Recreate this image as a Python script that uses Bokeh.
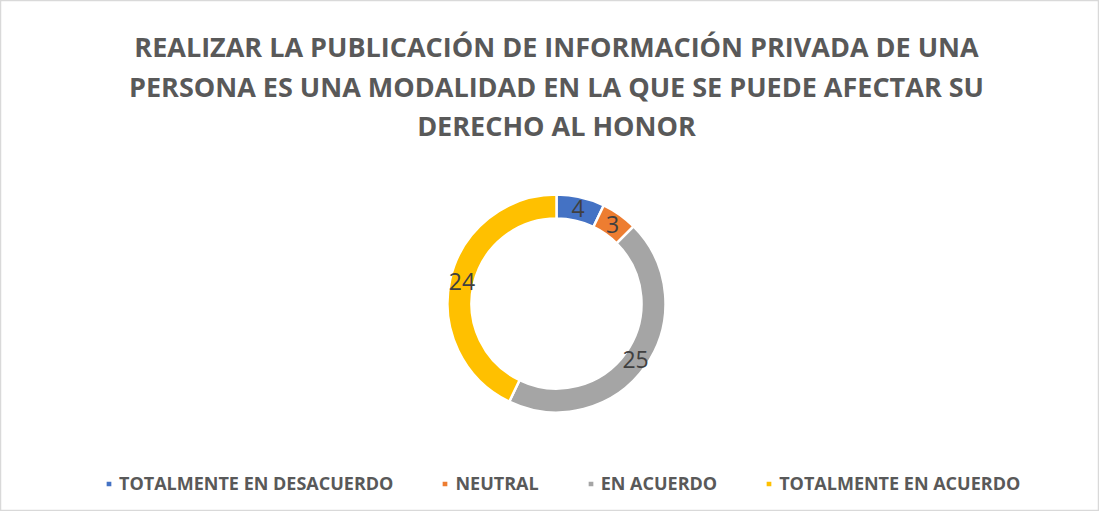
import math
from bokeh.plotting import figure
from bokeh.models import ColumnDataSource, Legend, LegendItem, Range1d
from bokeh.core.properties import value
from bokeh.embed import file_html
from bokeh.resources import INLINE

categories = ["TOTALMENTE EN DESACUERDO", "NEUTRAL", "EN ACUERDO", "TOTALMENTE EN ACUERDO"]
counts = [4, 3, 25, 24]
colors = ["#4472C4", "#ED7D31", "#A5A5A5", "#FFC000"]
title_lines = [
    "REALIZAR LA PUBLICACIÓN DE INFORMACIÓN PRIVADA DE UNA",
    "PERSONA ES UNA MODALIDAD EN LA QUE SE PUEDE AFECTAR SU",
    "DERECHO AL HONOR",
]

W, H = 1099, 511
CX, CY = 556, 208
R_OUT, R_IN = 109, 85

total = sum(counts)
starts, ends, lx, ly = [], [], [], []
cum = 0
for c in counts:
    a0 = math.pi / 2 - 2 * math.pi * cum / total
    a1 = math.pi / 2 - 2 * math.pi * (cum + c) / total
    mid = (a0 + a1) / 2
    starts.append(a0)
    ends.append(a1)
    rm = (R_OUT + R_IN) / 2
    lx.append(CX + rm * math.cos(mid))
    ly.append(CY + rm * math.sin(mid))
    cum += c

src = ColumnDataSource(dict(cat=categories, n=counts, color=colors,
                            start=starts, end=ends, lx=lx, ly=ly,
                            lbl=[str(c) for c in counts]))

p = figure(width=W, height=H, output_backend="svg", toolbar_location=None,
           x_range=Range1d(0, W), y_range=Range1d(0, H),
           min_border=0, min_border_left=0, min_border_right=0,
           min_border_top=0, min_border_bottom=0)
p.axis.visible = False
p.grid.visible = False
p.outline_line_color = "#D9D9D9"
p.outline_line_width = 1.5
p.background_fill_color = "white"
p.border_fill_color = "white"

r = p.annular_wedge(x=CX, y=CY, inner_radius=R_IN, outer_radius=R_OUT,
                    start_angle="start", end_angle="end", direction="clock",
                    fill_color="color", line_color="white", line_width=2.5,
                    source=src)

p.text(x="lx", y="ly", text="lbl", source=src, text_align="center",
       text_baseline="middle", text_font=value("Open Sans"),
       text_font_size="23px", text_color="#404040")

title_y = [465, 425, 386]
for t, y in zip(title_lines, title_y):
    p.text(x=[CX], y=[y], text=[t], text_align="center", text_baseline="middle",
           text_font=value("Open Sans"), text_font_style="bold",
           text_font_size="27px", text_color="#595959")

items = [LegendItem(label=c, renderers=[r], index=i) for i, c in enumerate(categories)]
legend = Legend(items=items, orientation="horizontal", location=(104, 16),
                glyph_width=9, glyph_height=9, label_standoff=6, spacing=47,
                padding=0, margin=0, border_line_color=None,
                background_fill_alpha=0,
                label_text_font="Open Sans", label_text_font_style="bold",
                label_text_font_size="18px", label_text_color="#595959")
p.add_layout(legend, "center")

open("out.html", "w").write(file_html(p, INLINE))
